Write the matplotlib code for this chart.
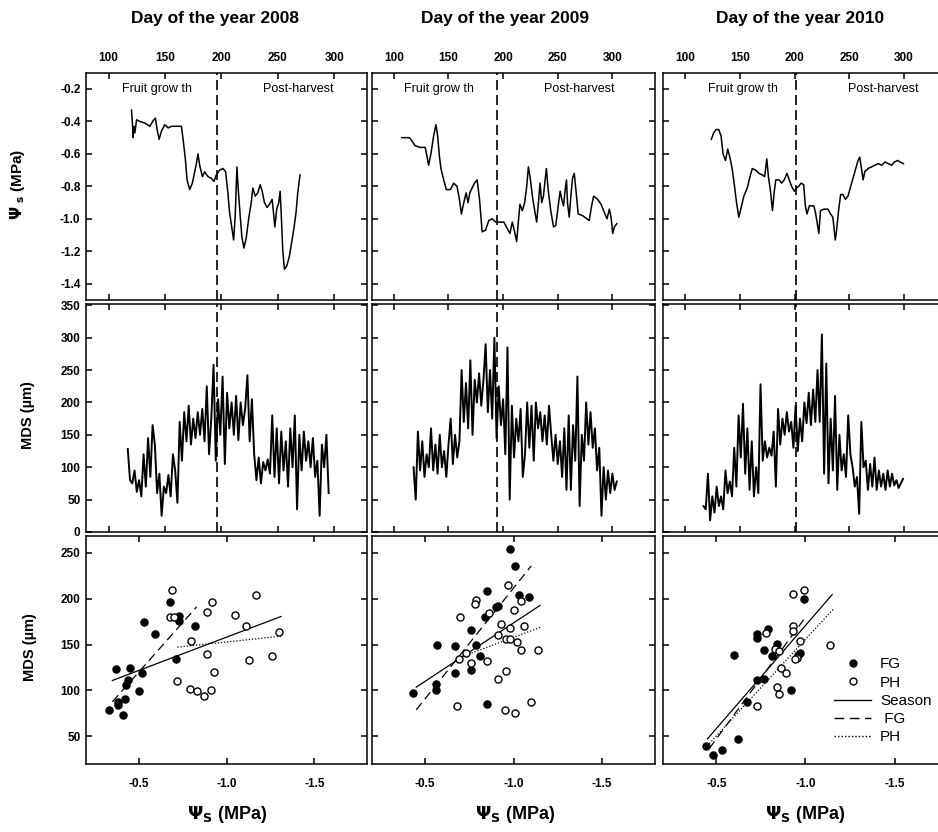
import numpy as np
import matplotlib.pyplot as plt
from matplotlib.lines import Line2D

plt.rcParams['font.family'] = ['Liberation Sans', 'DejaVu Sans']
plt.rcParams['font.weight'] = 'bold'
plt.rcParams['mathtext.default'] = 'bf'
plt.rcParams['axes.unicode_minus'] = False

years = ['2008', '2009', '2010']

# --- top row: stem water potential (MPa) vs day of year
days_2008 = [120.3, 121.2, 121.8, 122.4, 123.3, 124.8, 127.7, 132.1, 136.5, 140,
             141.5, 143, 144.8, 146.8, 149.8, 152.7, 155.7, 164.5, 166, 168,
             169.5, 171.9, 174.2, 176.3, 177.8, 179.2, 180.7, 183.1, 185.1, 188.1,
             191, 193.4, 195.4, 198.4, 201.3, 203.7, 205.7, 207.2, 209.3, 210.8,
             212.2, 213.7, 214.9, 216.6, 218.1, 219.9, 221.9, 224.3, 226.4, 227.8,
             229.9, 232.2, 234.3, 236.1, 238.1, 240.5, 242.6, 244.9, 246.1, 247.3,
             249, 250.8, 252, 252.9, 254.3, 255.8, 257.9, 260.2, 262.6, 264.6,
             266.1, 267.6, 269.6]
psi_2008 = [-0.33, -0.42, -0.50, -0.43, -0.47, -0.39, -0.40, -0.41, -0.43, -0.39,
            -0.38, -0.45, -0.51, -0.46, -0.42, -0.44, -0.43, -0.43, -0.51, -0.63,
            -0.76, -0.82, -0.78, -0.71, -0.66, -0.60, -0.67, -0.74, -0.71, -0.74,
            -0.75, -0.77, -0.73, -0.70, -0.69, -0.71, -0.84, -0.96, -1.06, -1.13,
            -0.98, -0.68, -0.82, -0.98, -1.11, -1.18, -1.12, -0.99, -0.90, -0.81,
            -0.86, -0.84, -0.79, -0.83, -0.90, -0.93, -0.91, -0.88, -0.96, -1.05,
            -0.94, -0.90, -0.83, -0.96, -1.19, -1.31, -1.29, -1.23, -1.13, -1.04,
            -0.96, -0.84, -0.73]

days_2009 = [107.3, 114.3, 116.5, 119.5, 124.1, 128.7, 130.2, 131.8, 133.9, 136.4,
             138.5, 140.1, 141.6, 143.1, 145.6, 148, 151.7, 154.8, 157.8, 160,
             161.8, 164, 166.1, 167.9, 169.5, 171.6, 173.8, 176.2, 178.4, 180.8,
             183.9, 186.9, 190, 193.1, 196.1, 200.7, 203.8, 206.2, 208.4, 210.5,
             212.4, 213.9, 215.4, 217.6, 219.7, 221.6, 223.1, 224.6, 226.8, 228.9,
             230.7, 232.3, 233.8, 235.3, 236.9, 238.1, 239.6, 241.2, 243.6, 246.1,
             248.2, 250.4, 252.2, 253.7, 255.3, 256.8, 258, 258.9, 260.5, 262,
             263.5, 265.1, 266.6, 268.7, 272.7, 276.7, 278.8, 281, 282.8, 286.5,
             289.6, 292.6, 295.1, 297.2, 298.8, 300.3, 301.8, 304]
psi_2009 = [-0.50, -0.50, -0.52, -0.55, -0.56, -0.56, -0.61, -0.67, -0.60, -0.49,
            -0.42, -0.49, -0.61, -0.69, -0.76, -0.82, -0.82, -0.78, -0.80, -0.88,
            -0.97, -0.90, -0.84, -0.90, -0.84, -0.81, -0.78, -0.76, -0.88, -1.08,
            -1.07, -1.01, -1.00, -1.02, -1.02, -1.02, -1.06, -1.09, -1.02, -1.08,
            -1.14, -1.02, -0.91, -0.95, -0.90, -0.80, -0.68, -0.74, -0.86, -0.95,
            -1.02, -0.90, -0.78, -0.90, -0.86, -0.78, -0.69, -0.82, -0.95, -1.05,
            -1.04, -0.92, -0.83, -0.88, -0.92, -0.82, -0.76, -0.90, -0.99, -0.86,
            -0.75, -0.72, -0.82, -0.97, -0.98, -1.00, -1.01, -0.92, -0.86, -0.88,
            -0.91, -0.96, -1.00, -0.94, -0.99, -1.09, -1.05, -1.03]

days_2010 = [124.1, 126.3, 128.4, 130.9, 133, 134.8, 137, 139.1, 141, 143.1,
             145.3, 147.1, 149.2, 151.7, 153.8, 156.9, 159.4, 161.5, 164.6, 167.6,
             170.7, 172.8, 174.7, 176.2, 178.3, 179.9, 181.4, 182.9, 186, 188.2,
             190.6, 193.1, 195.2, 197.4, 199.8, 201.9, 203.8, 206, 208.4, 209.9,
             211.4, 213.6, 217.6, 219.1, 220.6, 222.2, 223.7, 226.8, 230.4, 232.9,
             235, 237.2, 238.4, 240.2, 242.1, 244.2, 246.4, 248.8, 251.3, 253.4,
             255.9, 258, 259.5, 261.1, 262.6, 264.1, 267.2, 270.3, 273.3, 276.4,
             279.5, 282.5, 285.6, 288.7, 291.1, 294.2, 296.3, 299.4]
psi_2010 = [-0.51, -0.47, -0.45, -0.45, -0.49, -0.60, -0.64, -0.57, -0.62, -0.69,
            -0.80, -0.90, -0.99, -0.92, -0.86, -0.81, -0.74, -0.69, -0.70, -0.72,
            -0.73, -0.74, -0.63, -0.74, -0.84, -0.95, -0.84, -0.76, -0.76, -0.78,
            -0.76, -0.72, -0.76, -0.80, -0.83, -0.81, -0.80, -0.78, -0.79, -0.92,
            -0.97, -0.92, -0.92, -0.96, -1.02, -1.09, -0.95, -0.94, -0.94, -0.97,
            -0.99, -1.13, -1.07, -0.95, -0.85, -0.85, -0.88, -0.86, -0.80, -0.75,
            -0.69, -0.64, -0.62, -0.69, -0.76, -0.71, -0.69, -0.68, -0.67, -0.66,
            -0.67, -0.65, -0.66, -0.67, -0.65, -0.64, -0.65, -0.66]

# end of fruit growth / harvest day for each season
harvest_day = [196, 194, 201]

# --- middle row: MDS (um), read every second day
mds_start = [117, 118, 117]
mds_2008 = [128, 80, 75, 95, 62, 80, 55,
            120, 70, 145, 85, 165,
            135, 60, 90, 25, 70,
            60, 88, 55, 120, 95,
            45, 170, 110, 185, 140,
            195, 135, 175, 145, 185,
            150, 190, 140, 225, 120,
            175, 258, 110, 205, 150,
            240, 105, 215, 160, 200,
            150, 210, 142, 200, 165,
            190, 242, 140, 205, 120,
            80, 115, 75, 108, 95,
            112, 90, 180, 85, 160,
            75, 155, 95, 140, 70,
            160, 100, 180, 35, 150,
            95, 155, 110, 140, 100,
            145, 85, 110, 25, 135,
            100, 150, 60]
mds_2009 = [100, 50, 155, 95, 140, 85,
            120, 100, 160, 95, 135,
            90, 150, 100, 125, 85,
            135, 175, 105, 150, 115,
            140, 250, 170, 230, 160,
            265, 150, 235, 200, 245,
            195, 235, 290, 185, 250,
            175, 300, 145, 225, 165,
            205, 120, 285, 50, 195,
            115, 175, 140, 190, 85,
            120, 200, 130, 195, 110,
            200, 160, 185, 140, 180,
            135, 195, 150, 110, 150,
            105, 140, 85, 160, 65,
            180, 65, 165, 110, 240,
            40, 150, 110, 200, 135,
            185, 130, 160, 95, 130,
            25, 100, 50, 95, 60,
            90, 65, 78]
mds_2010 = [40, 35, 90, 18, 55, 30, 70,
            40, 55, 35, 95, 60,
            78, 55, 130, 70, 180,
            115, 198, 90, 160, 65,
            140, 55, 100, 60, 228,
            110, 140, 115, 130, 118,
            155, 70, 190, 135, 175,
            150, 185, 155, 170, 130,
            195, 125, 175, 140, 200,
            168, 215, 165, 220, 170,
            250, 170, 305, 90, 260,
            75, 175, 95, 210, 65,
            150, 95, 120, 85, 180,
            120, 100, 70, 85, 28,
            170, 100, 110, 65, 105,
            70, 115, 65, 95, 70,
            90, 65, 95, 70, 90,
            72, 80, 68, 75, 82]

# --- bottom row: MDS vs stem water potential
fg_psi_2008 = [-0.33, -0.38, -0.41, -0.38, -0.42, -0.43, -0.44, -0.37, -0.45,
               -0.52, -0.50, -0.53, -0.59, -0.68, -0.73, -0.73, -0.71, -0.82]
fg_mds_2008 = [79, 84, 73, 87, 91, 106, 111, 123, 124,
               119, 99, 174, 161, 196, 181, 176, 134, 170]
ph_psi_2008 = [-0.69, -0.68, -0.70, -0.92, -0.89, -1.05, -1.17, -0.80, -1.11,
               -1.30, -0.89, -1.13, -1.26, -0.93, -0.72, -0.79, -0.83, -0.87, -0.91]
ph_mds_2008 = [209, 180, 180, 196, 185, 182, 204, 154, 170,
               164, 140, 133, 138, 120, 110, 102, 99, 94, 101]

fg_psi_2009 = [-0.98, -1.01, -0.85, -1.03, -1.09, -0.91, -0.90, -0.84, -0.76,
               -0.57, -0.67, -0.79, -0.81, -0.67, -0.76, -0.56, -0.56, -0.43, -0.85]
fg_mds_2009 = [254, 235, 208, 204, 202, 192, 191, 180, 166,
               150, 148, 150, 138, 119, 122, 107, 100, 97, 85]
ph_psi_2009 = [-0.97, -0.79, -0.78, -1.04, -1.00, -0.70, -0.86, -0.93, -0.98,
               -1.06, -0.91, -0.96, -0.98, -1.02, -1.04, -1.14, -0.73, -0.69,
               -0.85, -0.76, -0.96, -0.91, -0.68, -0.95, -1.01, -1.10]
ph_mds_2009 = [215, 198, 194, 197, 188, 180, 184, 172, 168,
               170, 160, 156, 156, 153, 144, 144, 141, 134,
               132, 130, 121, 113, 83, 79, 75, 87]

fg_psi_2010 = [-0.99, -0.79, -0.73, -0.73, -0.60, -0.77, -0.84, -0.81, -0.97,
               -0.96, -0.73, -0.77, -0.92, -0.67, -0.62, -0.44, -0.48, -0.53]
fg_mds_2010 = [199, 167, 161, 157, 139, 144, 151, 137, 141,
               139, 111, 113, 101, 87, 47, 40, 30, 35]
ph_psi_2010 = [-0.99, -0.93, -0.93, -0.93, -0.78, -0.97, -1.14, -0.83, -0.85,
               -0.95, -0.94, -0.86, -0.89, -0.84, -0.85, -0.73]
ph_mds_2010 = [209, 205, 170, 165, 163, 154, 150, 145, 143,
               135, 134, 125, 119, 104, 96, 83]

# regression lines: [slope, intercept, psi_from, psi_to]
season_fit = [[-72.5, 85.5, -0.35, -1.31],
              [-127.1, 46.4, -0.45, -1.15],
              [-224.1, -53.4, -0.45, -1.15]]
fg_fit = [[-215.3, 12.3, -0.35, -0.83],
          [-240.8, -29.4, -0.45, -1.10],
          [-264.6, -84.9, -0.46, -0.99]]
ph_fit = [[-20.3, 132.5, -0.72, -1.31],
          [-72.0, 85.8, -0.68, -1.15],
          [-210.2, -54.5, -0.46, -1.16]]

top_days = [days_2008, days_2009, days_2010]
top_psi = [psi_2008, psi_2009, psi_2010]
mds_vals = [mds_2008, mds_2009, mds_2010]
fg_psi = [fg_psi_2008, fg_psi_2009, fg_psi_2010]
fg_mds = [fg_mds_2008, fg_mds_2009, fg_mds_2010]
ph_psi = [ph_psi_2008, ph_psi_2009, ph_psi_2010]
ph_mds = [ph_mds_2008, ph_mds_2009, ph_mds_2010]

fig = plt.figure(figsize=(9.38, 8.32), dpi=100)

# panel boxes (figure fractions), small white gap between neighbours
col_left = [0.0917, 0.3966, 0.7068]
col_width = [0.2996, 0.3017, 0.3038]
day_max = [329, 339, 340]
row_bottom = [0.6394, 0.3606, 0.0817]
row_height = [0.2732, 0.2740, 0.2740]
fruit_x = [143, 141, 153]
post_x = [268, 270, 281]


def style(ax):
    for sp in ax.spines.values():
        sp.set_linewidth(1.1)
    ax.tick_params(direction='in', length=4, width=1.1, top=True, right=True,
                   labelsize=8.5, pad=4)


for i in range(3):
    # top row
    ax = fig.add_axes([col_left[i], row_bottom[0], col_width[i], row_height[0]])
    ax.plot(top_days[i], top_psi[i], color='k', lw=1.1)
    ax.axvline(harvest_day[i], color='k', lw=1.2, dashes=(6, 3))
    ax.set_xlim(80, day_max[i])
    ax.set_ylim(-1.5, -0.1)
    ax.set_xticks([100, 150, 200, 250, 300])
    ax.set_yticks([-1.4, -1.2, -1.0, -0.8, -0.6, -0.4, -0.2])
    ax.yaxis.set_major_formatter('{x:.1f}')
    style(ax)
    ax.tick_params(labeltop=True, labelbottom=False, labelleft=(i == 0))
    ax.tick_params(axis='x', pad=6)
    ax.text(fruit_x[i], -0.2, 'Fruit grow th', ha='center', va='center',
            fontsize=9, fontweight='normal')
    ax.text(post_x[i], -0.2, 'Post-harvest', ha='center', va='center',
            fontsize=9, fontweight='normal')

    # middle row
    ax = fig.add_axes([col_left[i], row_bottom[1], col_width[i], row_height[1]])
    mds_days = np.arange(len(mds_vals[i])) * 2 + mds_start[i]
    ax.plot(mds_days, mds_vals[i], color='k', lw=1.4)
    ax.axvline(harvest_day[i], color='k', lw=1.2, dashes=(6, 3))
    ax.set_xlim(80, day_max[i])
    ax.set_ylim(0, 352)
    ax.set_xticks([100, 150, 200, 250, 300])
    ax.set_yticks(range(0, 351, 50))
    style(ax)
    ax.tick_params(labelbottom=False, labelleft=(i == 0))

    # bottom row
    ax = fig.add_axes([col_left[i], row_bottom[2], col_width[i], row_height[2]])
    ax.scatter(fg_psi[i], fg_mds[i], s=26, color='k', zorder=3)
    ax.scatter(ph_psi[i], ph_mds[i], s=26, facecolors='white',
               edgecolors='k', linewidths=1.0, zorder=3)
    for fit, kw in [(season_fit[i], dict(ls='-')),
                    (fg_fit[i], dict(dashes=(7, 4))),
                    (ph_fit[i], dict(dashes=(1, 1.5)))]:
        xs = np.array(fit[2:])
        ax.plot(xs, fit[1] + fit[0] * xs, color='k', lw=0.9, **kw)
    ax.set_xlim(-0.2, -1.8)
    ax.set_ylim(20, 268)
    ax.set_xticks([-0.5, -1.0, -1.5])
    ax.xaxis.set_major_formatter('{x:.1f}')
    ax.set_yticks([50, 100, 150, 200, 250])
    style(ax)
    ax.tick_params(labelleft=(i == 0), pad=10, axis='x')
    ax.tick_params(labelleft=(i == 0), axis='y')

    if i == 2:
        handles = [
            Line2D([], [], ls='none', marker='o', color='k', markersize=5),
            Line2D([], [], ls='none', marker='o', markerfacecolor='white',
                   markeredgecolor='k', markersize=5),
            Line2D([], [], color='k', lw=1.0),
            Line2D([], [], color='k', lw=1.0, dashes=(7, 4)),
            Line2D([], [], color='k', lw=1.0, dashes=(1, 1.5)),
        ]
        ax.legend(handles, ['FG', 'PH', 'Season', ' FG', 'PH'],
                  loc='upper left', bbox_to_anchor=(0.58, 0.495), frameon=False,
                  prop=dict(size=11, weight='normal'), handlelength=2.4,
                  labelspacing=0.28, handletextpad=0.6, borderaxespad=0)

# column titles and axis labels
title_x = [0.229, 0.538, 0.853]
xlab_x = [0.242, 0.549, 0.858]
for i in range(3):
    fig.text(title_x[i], 0.978, 'Day of the year ' + years[i], ha='center',
             va='center', fontsize=12.5)
    fig.text(xlab_x[i], 0.021, r'$\Psi_S$ (MPa)', ha='center', va='center',
             fontsize=13)

fig.text(0.019, 0.778, r'$\Psi$ $_{s}$ (MPa)', rotation=90, ha='center',
         va='center', fontsize=11)
fig.text(0.030, 0.501, 'MDS (µm)', rotation=90, ha='center', va='center',
         fontsize=10.5)
fig.text(0.032, 0.222, 'MDS (µm)', rotation=90, ha='center', va='center',
         fontsize=10.5)

plt.savefig('out.png', dpi=100)
